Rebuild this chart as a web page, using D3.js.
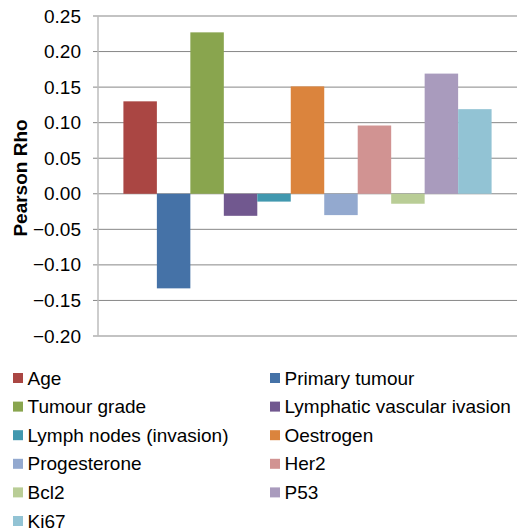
<!DOCTYPE html>
<html>
<head>
<meta charset="utf-8">
<script src="https://cdn.jsdelivr.net/npm/d3@7"></script>
<style>
  body { margin: 0; background: #fff; }
  text { font-family: 'Liberation Sans', Arial, sans-serif; fill: #000; }
</style>
</head>
<body>
<div id="chart"></div>
<script>
// data
const series = ['Age', 'Primary tumour', 'Tumour grade', 'Lymphatic vascular ivasion',
  'Lymph nodes (invasion)', 'Oestrogen', 'Progesterone', 'Her2', 'Bcl2', 'P53', 'Ki67'];
const rho = [0.130, -0.133, 0.227, -0.031, -0.011, 0.151, -0.030, 0.096, -0.014, 0.169, 0.119];
const colors = ['#AA4643', '#4572A7', '#89A54E', '#71588F', '#4198AF', '#DB843D',
  '#93A9CF', '#D19392', '#B9CD96', '#A99BBD', '#92C3D4'];
const yTicks = [-0.20, -0.15, -0.10, -0.05, 0.00, 0.05, 0.10, 0.15, 0.20, 0.25];

const W = 524, H = 530;
const margin = { top: 16, right: 7, bottom: 194, left: 98 };
const width = W - margin.left - margin.right;
const height = H - margin.top - margin.bottom;

const svg = d3.select('#chart').append('svg')
  .attr('width', W)
  .attr('height', H);

const group = svg.append('g')
  .attr('transform', 'translate(' + margin.left + ',' + margin.top + ')');

// one category, eleven series side by side
const x0 = d3.scaleBand().domain(['all']).range([0, width]).paddingOuter(0.069);
const x1 = d3.scaleBand().domain(series).range([0, x0.bandwidth()]);
const yScale = d3.scaleLinear().domain([-0.20, 0.25]).range([height, 0]);

// gridlines
group.append('g')
  .selectAll('line')
  .data(yTicks)
  .join('line')
  .attr('x1', -5)
  .attr('x2', width)
  .attr('y1', d => yScale(d))
  .attr('y2', d => yScale(d))
  .attr('stroke', '#878787')
  .attr('stroke-width', 1);

// y axis
const yAxis = d3.axisLeft(yScale)
  .tickValues(yTicks)
  .tickFormat(d3.format('.2f'))
  .tickSize(0)
  .tickPadding(17);

const yAxisGroup = group.append('g').call(yAxis);
yAxisGroup.select('.domain').remove();
yAxisGroup.selectAll('text')
  .style('font-size', '19px')
  .style('font-family', "'Liberation Sans', Arial, sans-serif")
  .attr('fill', '#000');

group.append('line')
  .attr('x1', 0).attr('x2', 0)
  .attr('y1', 0).attr('y2', height)
  .attr('stroke', '#bdbdbd')
  .attr('stroke-width', 1.5);

// bars
group.append('g')
  .attr('transform', 'translate(' + x0('all') + ',0)')
  .selectAll('rect')
  .data(series)
  .join('rect')
  .attr('x', d => x1(d))
  .attr('width', x1.bandwidth())
  .attr('y', (d, i) => yScale(Math.max(0, rho[i])))
  .attr('height', (d, i) => Math.abs(yScale(rho[i]) - yScale(0)))
  .attr('fill', (d, i) => colors[i]);

// y label
svg.append('text')
  .attr('transform', 'translate(27,' + (margin.top + height / 2 + 2) + ') rotate(-90)')
  .attr('text-anchor', 'middle')
  .style('font-size', '19px')
  .style('font-weight', 'bold')
  .text('Pearson Rho');

// legend, two columns
const legend = svg.append('g');
const items = legend.selectAll('g')
  .data(series)
  .join('g')
  .attr('transform', (d, i) => 'translate(' + (i % 2 === 0 ? 13 : 270) + ',' + (378 + Math.floor(i / 2) * 28.6) + ')');

items.append('rect')
  .attr('x', 0)
  .attr('y', -5)
  .attr('width', 10)
  .attr('height', 10)
  .attr('fill', (d, i) => colors[i]);

items.append('text')
  .attr('x', 14.5)
  .attr('y', 6.5)
  .style('font-size', '19px')
  .text(d => d);
</script>
</body>
</html>
